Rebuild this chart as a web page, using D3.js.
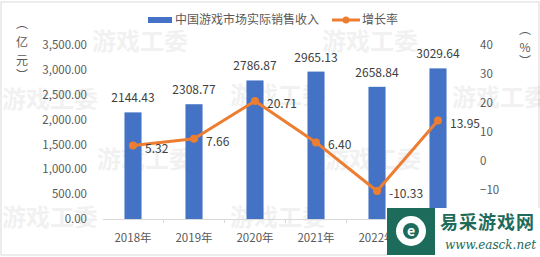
<!DOCTYPE html>
<html><head><meta charset="utf-8">
<script src="https://cdn.jsdelivr.net/npm/d3@7"></script>
<style>html,body{margin:0;padding:0;background:#fff;}svg{display:block;}</style>
</head><body>
<svg id="c" width="540" height="257"></svg>
<script>
const categories = ["2018年","2019年","2020年","2021年","2022年","2023年"];
const revenue = [2144.43, 2308.77, 2786.87, 2965.13, 2658.84, 3029.64];
const growth = [5.32, 7.66, 20.71, 6.40, -10.33, 13.95];
const leftTicks = [0,500,1000,1500,2000,2500,3000,3500];
const rightTicks = [-20,-10,0,10,20,30,40];
const seriesNames = ["中国游戏市场实际销售收入","增长率"];

(function(){
const font = "'Noto Sans CJK SC','Noto Sans',sans-serif";
const svg = d3.select("#c").style("font-family", font);
const W = 540, H = 257;
const pTop = 45, pBottom = 219, pLeft = 102.5, pRight = 468.5;
const blue = "#4472C4", orange = "#ED7D31", txt = "#595959";

svg.append("rect").attr("x",1).attr("y",2).attr("width",W-2).attr("height",H-4)
  .attr("fill","#fff").attr("stroke","#d9d9d9").attr("stroke-width",1);

const x = d3.scaleBand().domain(categories).range([pLeft,pRight]).paddingInner(0.72).paddingOuter(0.36);
const xb = d3.scaleBand().domain(categories).range([pLeft,pRight]);
const yL = d3.scaleLinear().domain([0,3500]).range([pBottom,pTop]);
const yR = d3.scaleLinear().domain([-20,40]).range([pBottom,pTop]);

// faint watermarks (behind)
const wm = [[92,50],[322,50],[2,108],[230,104],[97,168],[325,168],[452,106],[2,226],[230,226]];
svg.selectAll(".wm").data(wm).enter().append("text")
  .attr("x",d=>d[0]).attr("y",d=>d[1]).attr("fill","#000").attr("opacity",0.05)
  .style("font-size","24px").style("font-weight","bold").text("游戏工委");

const gL = svg.append("g").attr("transform",`translate(87,0)`)
  .call(d3.axisLeft(yL).tickValues(leftTicks).tickSize(0).tickPadding(0).tickFormat(d3.format(",.2f")));
gL.select(".domain").remove();
gL.selectAll("text").attr("fill",txt).style("font-size","11.5px").style("font-family",font);

const gR = svg.append("g").attr("transform",`translate(480,0)`)
  .call(d3.axisRight(yR).tickValues(rightTicks).tickSize(0).tickPadding(0));
gR.select(".domain").remove();
gR.selectAll("text").attr("fill",txt).style("font-size","11.5px").style("font-family",font);

const gB = svg.append("g").attr("transform",`translate(0,${pBottom})`)
  .call(d3.axisBottom(xb).tickSize(0).tickPadding(15));
gB.select(".domain").attr("stroke","#d9d9d9");
gB.selectAll("text").attr("fill",txt).style("font-size","11.5px").style("font-family",font);
gB.selectAll(".sep").data(categories.slice(1)).enter().append("line")
  .attr("x1",d=>xb(d)).attr("x2",d=>xb(d)).attr("y1",0).attr("y2",4).attr("stroke","#d9d9d9");

const ltitle = svg.append("text").attr("fill",txt).style("font-size","12px");
["︵","亿","元","︶"].forEach((ch,i)=>{
  ltitle.append("tspan").attr("x",22).attr("y",[28,47,65,80][i]).attr("text-anchor","middle").text(ch);
});
const rtitle = svg.append("text").attr("fill",txt).style("font-size","12px");
["︵","%","︶"].forEach((ch,i)=>{
  rtitle.append("tspan").attr("x",525).attr("y",[34,52,66][i]).attr("text-anchor","middle").text(ch);
});

svg.selectAll(".bar").data(revenue).enter().append("rect")
  .attr("x",(d,i)=>x(categories[i])).attr("width",x.bandwidth())
  .attr("y",d=>yL(d)).attr("height",d=>pBottom-yL(d)).attr("fill",blue);
svg.selectAll(".blab").data(revenue).enter().append("text")
  .attr("x",(d,i)=>xb(categories[i])+xb.bandwidth()/2).attr("y",d=>yL(d)-10)
  .attr("text-anchor","middle").attr("fill","#404040").style("font-size","12px")
  .text(d=>d.toFixed(2));

const cx = (d,i)=>xb(categories[i])+xb.bandwidth()/2;
svg.append("path").datum(growth)
  .attr("d",d3.line().x(cx).y(d=>yR(d)))
  .attr("fill","none").attr("stroke",orange).attr("stroke-width",3).attr("stroke-linejoin","round");
svg.selectAll(".pt").data(growth).enter().append("circle")
  .attr("cx",cx).attr("cy",d=>yR(d)).attr("r",4).attr("fill",orange);
svg.selectAll(".llab").data(growth).enter().append("text")
  .attr("x",(d,i)=>cx(d,i)+12).attr("y",d=>yR(d)+7)
  .attr("fill","#404040").style("font-size","12px").text(d=>d.toFixed(2));

svg.append("rect").attr("x",148).attr("y",17).attr("width",24).attr("height",6).attr("fill",blue);
svg.append("text").attr("x",175).attr("y",24).attr("fill",txt).style("font-size","12px").text(seriesNames[0]);
svg.append("line").attr("x1",332).attr("x2",360).attr("y1",20).attr("y2",20).attr("stroke",orange).attr("stroke-width",3);
svg.append("circle").attr("cx",346).attr("cy",20).attr("r",3.5).attr("fill",orange);
svg.append("text").attr("x",362).attr("y",24).attr("fill",txt).style("font-size","12px").text(seriesNames[1]);

const lg = svg.append("g");
lg.append("rect").attr("x",387).attr("y",208).attr("width",153).attr("height",49).attr("fill","#fff");
lg.append("rect").attr("x",387).attr("y",208).attr("width",48).attr("height",47).attr("fill","#1d6b5b");
lg.append("circle").attr("cx",411).attr("cy",231).attr("r",15).attr("fill","#fff");
lg.append("circle").attr("cx",411).attr("cy",231).attr("r",8).attr("fill","#1d6b5b");
lg.append("text").attr("x",411).attr("y",236).attr("text-anchor","middle").attr("fill","#fff")
  .style("font-size","14px").style("font-weight","bold").text("e");
lg.append("text").attr("x",440).attr("y",229).attr("fill","#1d6b5b").style("font-size","18px")
  .style("font-family","'Noto Sans CJK SC',serif").style("font-weight","bold").attr("letter-spacing","1").text("易采游戏网");
lg.append("text").attr("x",445).attr("y",249).attr("fill","#1d6b5b").style("font-size","12px")
  .style("font-family","'DejaVu Serif','Liberation Serif',serif").style("font-style","italic").text("www.easck.net");
})();
</script>
</body></html>
